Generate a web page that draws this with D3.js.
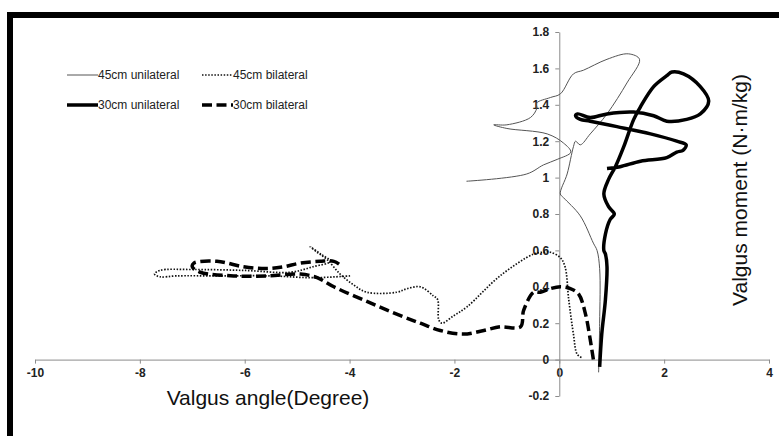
<!DOCTYPE html>
<html>
<head>
<meta charset="utf-8">
<script src="https://cdn.jsdelivr.net/npm/d3@7"></script>
<style>
  body { margin: 0; background: #fff; }
  svg { display: block; }
</style>
</head>
<body>
<div id="main"></div>
<script>
// tick values and their printed labels
const xTicks = [-10, -8, -6, -4, -2, 0, 2, 4];
const xTickLabels = ['-10', '-8', '-6', '-4', '-2', '0', '2', '4'];
const yTicks = [-0.2, 0, 0.2, 0.4, 0.6, 0.8, 1, 1.2, 1.4, 1.6, 1.8];
const yTickLabels = ['-0.2', '0', '0.2', '0.4', '0.6', '0.8', '1', '1.2', '1.4', '1.6', '1.8'];

// series, [valgus angle, valgus moment]
const uni45 = [
  [0.75, -0.07], [0.77, 0.2], [0.77, 0.5], [0.72, 0.6], [0.65, 0.64], [0.4, 0.79],
  [0.08, 0.89], [0.02, 0.91], [0.15, 1.02], [0.27, 1.17], [0.31, 1.2], [0.4, 1.18],
  [0.59, 1.24], [0.91, 1.35], [1.29, 1.52], [1.53, 1.65], [1.32, 1.68], [0.91, 1.65],
  [0.46, 1.59], [0.27, 1.57], [0.02, 1.46], [-0.17, 1.44], [-0.43, 1.41], [-0.43, 1.38],
  [-0.55, 1.33], [-1.0, 1.29], [-1.25, 1.29], [-1.0, 1.27], [-0.23, 1.24], [0.08, 1.19],
  [0.22, 1.14], [-0.04, 1.1], [-0.3, 1.07], [-0.62, 1.02], [-1.77, 0.98]
];
const bi45 = [
  [-3.99, 0.46], [-4.7, 0.45], [-5.5, 0.46], [-6.5, 0.46], [-7.3, 0.46], [-7.62, 0.455],
  [-7.72, 0.47], [-7.62, 0.49], [-7.0, 0.495], [-6.0, 0.49], [-5.13, 0.48], [-4.7, 0.51],
  [-4.37, 0.54], [-4.55, 0.58], [-4.75, 0.62], [-4.62, 0.59], [-4.43, 0.55], [-4.18, 0.47],
  [-3.92, 0.41], [-3.67, 0.37], [-3.1, 0.37], [-2.9, 0.39], [-2.65, 0.4], [-2.4, 0.35],
  [-2.32, 0.33], [-2.3, 0.22], [-2.24, 0.2], [-2.02, 0.24], [-1.76, 0.29], [-1.13, 0.46],
  [-0.49, 0.58], [-0.3, 0.59], [-0.17, 0.59], [0.02, 0.56], [0.11, 0.51], [0.18, 0.33],
  [0.27, 0.14], [0.34, 0.03], [0.43, 0.01]
];
const uni30 = [
  [0.77, -0.04], [0.81, 0.14], [0.88, 0.33], [0.91, 0.51], [0.88, 0.58], [0.85, 0.6],
  [0.88, 0.69], [0.97, 0.77], [1.05, 0.8], [0.94, 0.84], [0.85, 0.91], [0.94, 0.99],
  [1.07, 1.06], [1.23, 1.17], [1.42, 1.32], [1.55, 1.39], [1.8, 1.5], [2.05, 1.56],
  [2.15, 1.58], [2.37, 1.57], [2.69, 1.5], [2.85, 1.42], [2.69, 1.35], [2.43, 1.32],
  [2.05, 1.31], [1.8, 1.34], [1.42, 1.36], [0.91, 1.35], [0.59, 1.33], [0.35, 1.35],
  [0.31, 1.34], [0.4, 1.32], [0.59, 1.31], [1.1, 1.28], [1.74, 1.24], [2.24, 1.2],
  [2.42, 1.18], [2.36, 1.15], [2.24, 1.14], [2.05, 1.11], [1.55, 1.09], [1.16, 1.06],
  [0.91, 1.05]
];
const bi30 = [
  [0.65, 0.0], [0.59, 0.11], [0.5, 0.25], [0.37, 0.36], [0.21, 0.39], [0.02, 0.4],
  [-0.17, 0.39], [-0.36, 0.37], [-0.49, 0.37], [-0.68, 0.27], [-0.74, 0.18], [-1.13, 0.18],
  [-1.44, 0.16], [-1.83, 0.14], [-2.27, 0.16], [-2.65, 0.2], [-3.1, 0.25], [-3.67, 0.32],
  [-4.3, 0.4], [-4.62, 0.45], [-4.94, 0.47], [-5.58, 0.46], [-6.21, 0.46], [-6.85, 0.48],
  [-7.0, 0.51], [-6.97, 0.53], [-6.53, 0.54], [-6.02, 0.51], [-5.58, 0.5], [-5.26, 0.51],
  [-4.94, 0.53], [-4.56, 0.54], [-4.3, 0.54], [-4.18, 0.52]
];

const seriesNames = ['45cm unilateral', '45cm bilateral', '30cm unilateral', '30cm bilateral'];
const seriesData = [uni45, bi45, uni30, bi30];

const lineStyles = [
  { stroke: '#555', width: 1, dash: null },
  { stroke: '#111', width: 1.7, dash: '1.5,1.6' },
  { stroke: '#000', width: 3.5, dash: null },
  { stroke: '#000', width: 3.5, dash: '10,4.5' }
];

function main() {
  const width = 779;
  const height = 436;

  const svg = d3.select('#main')
    .append('svg')
    .attr('width', width)
    .attr('height', height);

  svg.append('rect')
    .attr('width', width)
    .attr('height', height)
    .attr('fill', '#fff');

  // the thick frame, cut off at the right and bottom
  svg.append('rect').attr('x', 7).attr('y', 12).attr('width', width - 7).attr('height', 6).attr('fill', '#000');
  svg.append('rect').attr('x', 7).attr('y', 12).attr('width', 6).attr('height', height - 12).attr('fill', '#000');

  const xScale = d3.scaleLinear().domain([-10, 4]).range([35, 769]);
  const yScale = d3.scaleLinear().domain([-0.2, 1.8]).range([396, 32]);

  const xAxis = d3.axisBottom(xScale)
    .tickValues(xTicks)
    .tickFormat((d, i) => xTickLabels[i])
    .tickSize(4)
    .tickSizeOuter(0)
    .tickPadding(5);

  const yAxis = d3.axisLeft(yScale)
    .tickValues(yTicks)
    .tickFormat((d, i) => yTickLabels[i])
    .tickSize(4)
    .tickSizeOuter(0)
    .tickPadding(6);

  const gx = svg.append('g')
    .attr('transform', `translate(0, ${yScale(0)})`)
    .call(xAxis);

  const gy = svg.append('g')
    .attr('transform', `translate(${xScale(0)}, 0)`)
    .call(yAxis);

  [gx, gy].forEach((g) => {
    g.select('.domain').attr('stroke', '#8c8c8c');
    g.selectAll('.tick line').attr('stroke', '#8c8c8c');
    g.selectAll('.tick text')
      .attr('fill', '#222')
      .style('font-family', 'Arial, "Liberation Sans", sans-serif')
      .style('font-size', '12px')
      .style('font-weight', 'bold');
  });

  const line = d3.line()
    .x(d => xScale(d[0]))
    .y(d => yScale(d[1]))
    .curve(d3.curveCatmullRom.alpha(0.5));

  svg.selectAll('path.series')
    .data(seriesData)
    .enter()
    .append('path')
    .classed('series', true)
    .attr('d', line)
    .attr('fill', 'none')
    .attr('stroke', (d, i) => lineStyles[i].stroke)
    .attr('stroke-width', (d, i) => lineStyles[i].width)
    .attr('stroke-dasharray', (d, i) => lineStyles[i].dash)
    .attr('stroke-linejoin', 'round');

  // legend, two columns by two rows
  const legend = svg.append('g');
  const legendPos = [[67, 75], [202, 75], [67, 105], [202, 105]];
  seriesNames.forEach((name, i) => {
    const [lx, ly] = legendPos[i];
    legend.append('line')
      .attr('x1', lx).attr('x2', lx + 31)
      .attr('y1', ly).attr('y2', ly)
      .attr('stroke', lineStyles[i].stroke)
      .attr('stroke-width', lineStyles[i].width)
      .attr('stroke-dasharray', lineStyles[i].dash);
    legend.append('text')
      .attr('x', lx + 31)
      .attr('y', ly)
      .attr('dy', '0.35em')
      .style('font-family', 'Arial, "Liberation Sans", sans-serif')
      .style('font-size', '12px')
      .attr('fill', '#222')
      .text(name);
  });

  svg.append('text')
    .attr('x', 268)
    .attr('y', 405)
    .style('font-family', 'Arial, "Liberation Sans", sans-serif')
    .style('font-size', '21px')
    .style('text-anchor', 'middle')
    .attr('fill', '#111')
    .text('Valgus angle(Degree)');

  svg.append('text')
    .attr('transform', 'rotate(-90)')
    .attr('x', -190)
    .attr('y', 747)
    .style('font-family', 'Arial, "Liberation Sans", sans-serif')
    .style('font-size', '21px')
    .style('text-anchor', 'middle')
    .attr('fill', '#111')
    .text('Valgus moment (N·m/kg)');
}

document.addEventListener('DOMContentLoaded', main);
</script>
</body>
</html>
